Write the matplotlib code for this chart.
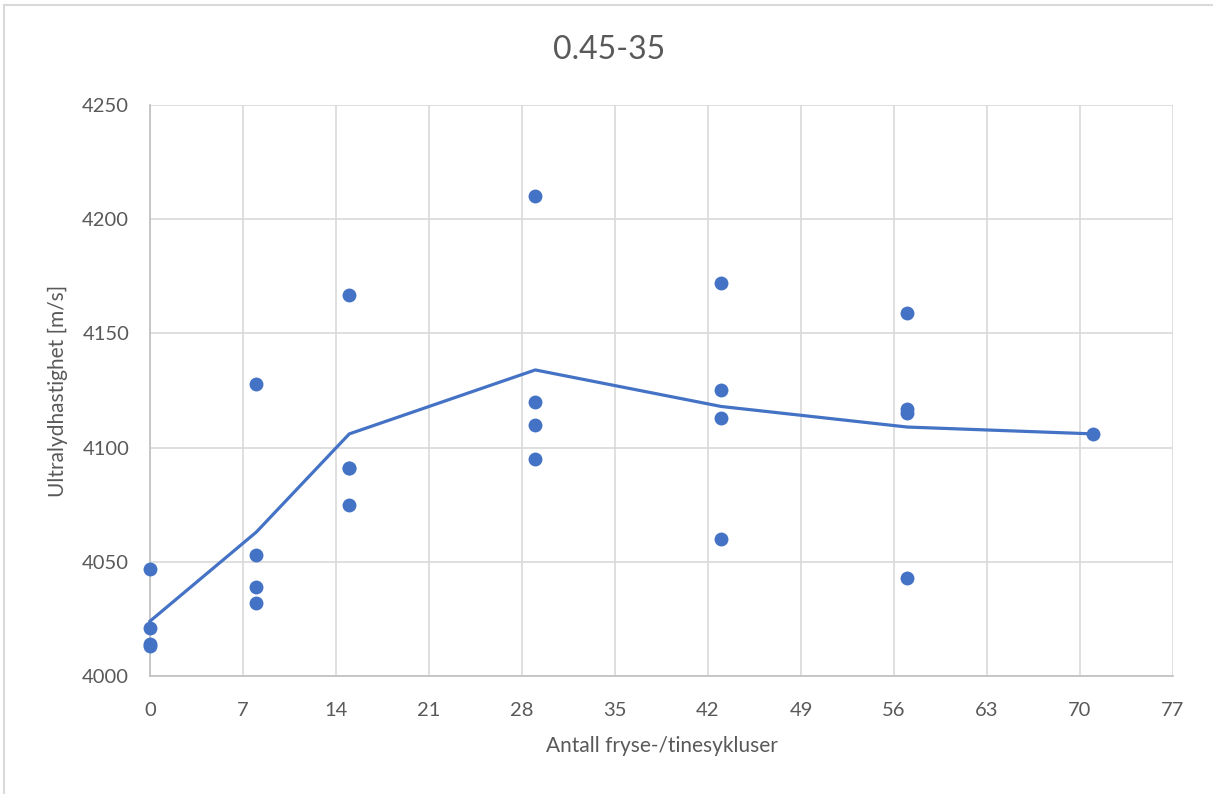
import matplotlib
matplotlib.use("Agg")
import matplotlib.pyplot as plt
from matplotlib.lines import Line2D

plt.rcParams["font.family"] = ["Lato", "DejaVu Sans"]

# Freeze-thaw cycles and measured ultrasonic pulse velocity per specimen
cycles = [0, 0, 0, 0,
          8, 8, 8, 8,
          15, 15, 15, 15,
          29, 29, 29, 29,
          43, 43, 43, 43,
          57, 57, 57, 57,
          71]
velocity = [4047, 4021, 4014, 4013,
            4128, 4053, 4039, 4032,
            4167, 4091, 4091, 4075,
            4210, 4120, 4110, 4095,
            4172, 4125, 4113, 4060,
            4159, 4117, 4115, 4043,
            4106]

# Mean velocity per cycle count
mean_cycles = [0, 8, 15, 29, 43, 57, 71]
mean_velocity = [4024, 4063, 4106, 4134, 4118, 4109, 4106]

xticks = list(range(0, 78, 7))
yticks = [4000, 4050, 4100, 4150, 4200, 4250]

BLUE = "#4472C4"
TEXT = "#595959"
GRID = "#D9D9D9"

W, H = 1213, 794
fig = plt.figure(figsize=(W / 100, H / 100), dpi=100)

# chart frame (only top and left edges fall inside the canvas)
fig.lines.append(Line2D([4 / W, 4 / W], [0, 1 - 5 / H], transform=fig.transFigure,
                        color=GRID, linewidth=1.5))
fig.lines.append(Line2D([4 / W, 1], [1 - 5 / H, 1 - 5 / H], transform=fig.transFigure,
                        color=GRID, linewidth=1.5))

ax = fig.add_axes([150 / W, 1 - 676 / H, (1173 - 150) / W, (676 - 105) / H])

ax.plot(mean_cycles, mean_velocity, color=BLUE, linewidth=2.3, zorder=3,
        clip_on=False)
ax.scatter(cycles, velocity, s=100, color=BLUE, zorder=4, linewidths=0,
           clip_on=False)

ax.set_xlim(0, 77)
ax.set_ylim(4000, 4250)
ax.set_xticks(xticks)
ax.set_yticks(yticks)
ax.grid(True, color=GRID, linewidth=1.2)
ax.set_axisbelow(True)
for side in ["top", "right"]:
    ax.spines[side].set_visible(False)
for side in ["left", "bottom"]:
    ax.spines[side].set_color("#BFBFBF")
    ax.spines[side].set_linewidth(1.2)
ax.tick_params(axis="x", length=0, labelsize=14.5, colors=TEXT, pad=19)
ax.tick_params(axis="y", length=0, labelsize=14.5, colors=TEXT, pad=15)

fig.text(609 / W, 1 - 50 / H, "0.45-35", fontsize=23, color=TEXT,
         ha="center", va="center")
ax.set_xlabel("Antall fryse-/tinesykluser", fontsize=15, color=TEXT, labelpad=12)
ax.set_ylabel("Ultralydhastighet [m/s]", fontsize=15, color=TEXT, labelpad=10)

fig.savefig("out.png", dpi=100)
